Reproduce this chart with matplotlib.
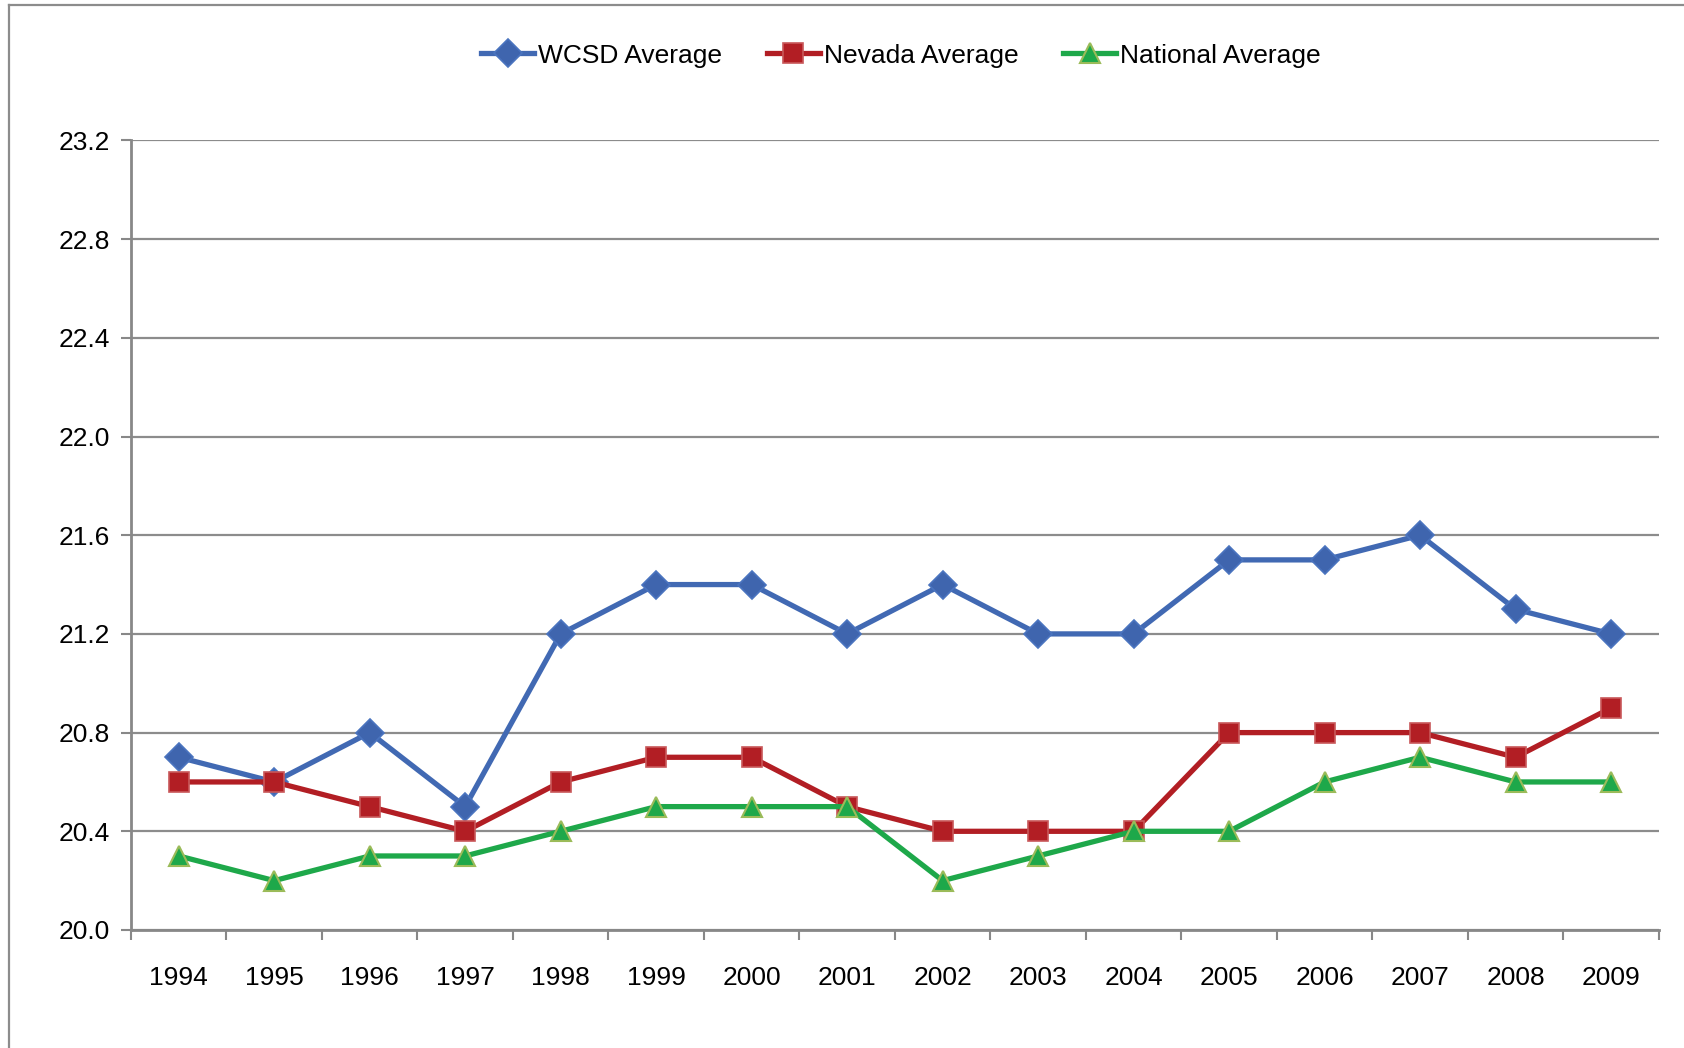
#!/usr/bin/env python3

import matplotlib.pyplot as plt
from matplotlib.lines import Line2D
import numpy as np

plt.rcParams['font.family'] = ['Liberation Sans', 'DejaVu Sans']

years = ['1994', '1995', '1996', '1997', '1998', '1999', '2000', '2001',
         '2002', '2003', '2004', '2005', '2006', '2007', '2008', '2009']
wcsd = [20.7, 20.6, 20.8, 20.5, 21.2, 21.4, 21.4, 21.2,
        21.4, 21.2, 21.2, 21.5, 21.5, 21.6, 21.3, 21.2]
nevada = [20.6, 20.6, 20.5, 20.4, 20.6, 20.7, 20.7, 20.5,
          20.4, 20.4, 20.4, 20.8, 20.8, 20.8, 20.7, 20.9]
national = [20.3, 20.2, 20.3, 20.3, 20.4, 20.5, 20.5, 20.5,
            20.2, 20.3, 20.4, 20.4, 20.6, 20.7, 20.6, 20.6]
yticks = [20.0, 20.4, 20.8, 21.2, 21.6, 22.0, 22.4, 22.8, 23.2]


def main():
    fig = plt.figure(figsize=(16.84, 10.48), dpi=100)
    ax = fig.add_axes([0.0778, 0.1126, 0.9072, 0.7534])

    x = np.arange(len(years))
    ax.plot(x, wcsd, '-', color='#4169B3', lw=3.8, marker='D', ms=14,
            mfc='#3F65AE', mec='#4A74BF', mew=1.2,
            label='WCSD Average', zorder=3)
    ax.plot(x, nevada, '-', color='#B21E24', lw=3.8, marker='s', ms=15,
            mfc='#B21E24', mec='#C8585A', mew=1.2,
            label='Nevada Average', zorder=3)
    ax.plot(x, national, '-', color='#1EA84A', lw=3.8, marker='^', ms=15,
            mfc='#1EA84A', mec='#9BBB59', mew=1.5,
            label='National Average', zorder=3)

    ax.set_xlim(-0.5, len(years) - 0.5)
    ax.set_ylim(yticks[0], yticks[-1])
    ax.set_yticks(yticks)
    ax.set_yticklabels(['%.1f' % v for v in yticks])
    ax.set_xticks(x)
    ax.set_xticklabels(years)
    ax.set_xticks(np.arange(-0.5, len(years)), minor=True)

    ax.tick_params(axis='x', which='major', length=0, pad=26, labelsize=19)
    ax.tick_params(axis='x', which='minor', length=7, width=1.5,
                   color='#888888', direction='out')
    ax.tick_params(axis='y', length=7, width=1.5, color='#888888',
                   labelsize=19, pad=8)

    ax.grid(axis='y', color='#8C8C8C', lw=1.6)
    ax.set_axisbelow(True)
    for side in ('top', 'right'):
        ax.spines[side].set_visible(False)
    for side in ('left', 'bottom'):
        ax.spines[side].set_color('#888888')
        ax.spines[side].set_linewidth(2)

    fig.legend(loc='center', bbox_to_anchor=(0.535, 0.947), ncol=3,
               frameon=False, fontsize=19, handlelength=2.0,
               handletextpad=0.15, columnspacing=1.7)

    # chart frame (only top and left edges visible)
    fig.add_artist(Line2D([0.0053, 1.0], [0.995, 0.995],
                          color='#8C8C8C', lw=1.6))
    fig.add_artist(Line2D([0.0053, 0.0053], [0.0, 0.995],
                          color='#8C8C8C', lw=1.6))

    fig.savefig('out.png', dpi=100)


if __name__ == '__main__':
    main()
